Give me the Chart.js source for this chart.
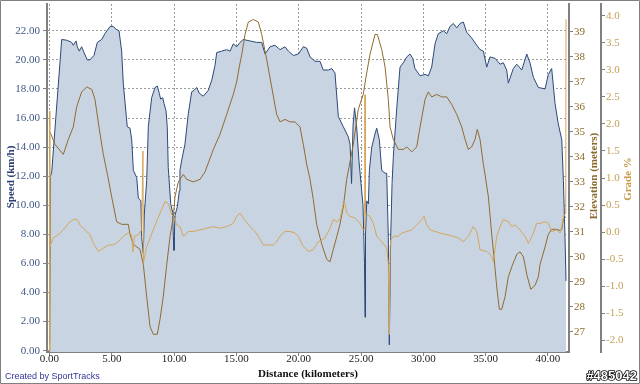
<!DOCTYPE html>
<html><head><meta charset="utf-8">
<script src="https://cdn.jsdelivr.net/npm/chart.js@4.4.0/dist/chart.umd.min.js"></script>
<style>html,body{margin:0;padding:0;background:#fff;overflow:hidden}canvas{display:block}</style>
</head><body>
<canvas id="c" width="640" height="384"></canvas>
<script>
// Speed (km/h) vs distance (km)
const speedDist = [
0.01,0.08,0.18,0.98,1.38,1.78,1.91,2.13,2.23,2.39,
2.58,2.77,3.03,3.25,3.57,3.84,4.19,4.45,4.86,5.12,
5.34,5.58,5.79,5.92,6.24,6.46,6.60,6.73,7.00,7.13,
7.34,7.40,7.53,7.61,7.80,7.93,8.20,8.47,8.65,8.81,
8.92,9.09,9.19,9.35,9.45,9.53,9.73,9.89,9.94,9.99,
10.07,10.26,10.42,10.47,10.61,10.87,11.14,11.41,11.60,11.81,
12.02,12.34,12.74,13.02,13.28,13.42,13.82,14.22,14.49,14.75,
15.02,15.29,15.55,16.09,16.63,17.03,17.30,17.70,18.10,18.50,
18.90,19.17,19.57,19.97,20.37,20.64,20.91,21.31,21.71,21.97,
22.38,22.65,22.91,23.18,23.58,23.98,24.12,24.24,24.36,24.48,
24.64,24.84,25.00,25.16,25.28,25.32,25.36,25.46,25.59,25.67,
25.86,26.12,26.26,26.47,26.66,26.93,27.06,27.19,27.27,27.38,
27.49,27.59,27.87,28.13,28.40,28.67,28.93,29.15,29.33,29.74,
30.14,30.40,30.67,30.94,31.20,31.61,31.88,32.14,32.41,32.68,
32.95,33.21,33.48,33.88,34.29,34.55,34.82,35.09,35.35,35.76,
36.16,36.42,36.69,36.82,37.22,37.50,37.90,38.30,38.56,38.83,
39.23,39.77,40.03,40.30,40.57,40.83,41.11,41.24,41.37,41.45];
const speedKmh = [
0.5,12.0,12.3,21.4,21.35,21.2,21.0,21.3,20.9,20.6,
20.9,20.5,20.0,20.0,20.3,21.2,21.4,21.8,22.3,22.3,
22.1,22.0,20.6,18.4,15.4,15.3,14.5,12.4,11.9,10.5,
10.3,7.8,6.7,9.4,11.7,15.4,17.4,18.1,18.2,17.7,
17.3,17.4,17.0,16.5,15.4,12.6,10.1,9.5,7.8,6.9,
9.3,9.9,11.0,12.4,13.1,14.2,16.3,17.8,17.9,18.1,
17.7,17.5,17.9,18.6,19.6,20.5,20.6,20.7,20.6,21.1,
20.9,21.2,21.4,21.3,21.2,21.2,20.4,20.9,21.0,20.7,
20.9,20.6,20.3,20.4,20.9,20.8,20.2,19.9,19.9,19.3,
19.3,19.4,19.1,16.1,15.4,14.7,14.2,11.5,15.5,16.7,
15.5,13.0,11.5,10.0,6.0,2.3,8.0,10.3,10.1,12.4,
14.0,14.9,15.3,14.5,12.4,12.2,12.2,7.8,0.4,7.8,
11.5,13.3,16.7,19.5,19.8,20.2,20.4,20.1,19.4,18.9,
19.0,18.9,19.5,21.1,21.8,22.0,21.8,22.3,22.5,22.2,
22.5,22.6,21.9,21.5,21.0,20.7,20.6,19.5,20.2,20.1,
19.7,19.8,19.3,18.4,19.4,19.7,19.3,20.4,19.8,18.8,
18.1,18.0,19.0,19.4,17.0,15.6,14.5,11.7,7.8,4.8];

// Elevation (meters) vs distance (km)
const elevDist = [
0.04,0.44,1.11,1.51,1.91,2.18,2.58,2.99,3.39,3.65,
4.00,4.32,4.65,4.99,5.39,5.79,6.32,6.46,6.73,7.26,
7.53,7.80,8.07,8.33,8.65,8.87,9.13,9.41,9.67,9.94,
10.07,10.34,10.74,11.01,11.54,12.08,12.48,13.15,13.68,14.22,
14.75,15.02,15.23,15.43,15.69,15.96,16.36,16.76,17.03,17.43,
17.83,18.23,18.50,18.90,19.30,19.70,20.10,20.37,20.64,20.91,
21.17,21.44,21.85,22.25,22.51,22.78,23.05,23.31,23.58,23.85,
24.38,24.78,25.18,25.40,25.72,26.12,26.31,26.66,26.93,27.19,
27.33,27.59,27.99,28.40,28.67,29.07,29.47,29.74,30.14,30.40,
30.67,31.08,31.48,31.88,32.28,32.68,33.08,33.35,33.61,33.88,
34.15,34.33,34.55,34.82,34.95,35.22,35.49,35.67,35.89,36.10,
36.29,36.56,36.82,37.10,37.50,37.76,38.03,38.30,38.62,38.96,
39.23,39.37,39.77,40.03,40.30,40.71,40.97,41.11,41.24,41.45];
const elevM = [
35.0,34.5,34.1,34.7,35.2,36.0,36.6,36.8,36.7,36.3,
35.1,34.1,33.3,32.4,31.4,31.3,31.3,30.9,30.5,30.3,
29.7,28.4,27.2,26.9,26.9,27.5,28.4,29.7,30.8,31.6,
32.4,33.0,33.3,33.1,33.0,33.1,33.4,34.3,34.9,35.7,
36.5,37.0,37.6,38.1,38.9,39.4,39.5,39.4,38.9,37.9,
36.8,35.7,35.4,35.5,35.4,35.4,35.2,34.5,33.7,33.1,
32.3,31.3,30.5,29.9,29.8,30.3,30.8,31.3,32.0,33.1,
34.5,35.9,36.5,37.2,38.1,38.9,38.9,38.3,37.6,36.3,
35.2,34.7,34.3,34.3,34.4,34.2,34.4,35.2,36.3,36.6,
36.4,36.5,36.4,36.4,36.1,35.7,35.2,34.7,34.3,34.4,
34.7,35.1,34.7,33.7,33.3,32.4,30.9,30.0,28.8,27.9,
27.9,28.4,29.2,29.6,30.1,30.2,30.0,29.3,28.7,28.85,
29.2,29.7,30.4,30.9,31.1,31.1,31.05,31.1,31.5,31.6];

// Grade (%) vs distance (km)
const gradeDist = [
0.00,0.02,0.04,0.30,0.71,1.11,1.51,1.91,2.23,2.45,
2.85,3.25,3.52,3.92,4.32,4.72,5.12,5.52,5.92,6.32,
6.60,6.70,6.81,7.13,7.40,7.50,7.54,7.80,8.33,8.87,
9.27,9.53,9.81,9.94,10.21,10.47,10.74,11.14,11.54,12.08,
12.62,13.15,13.68,14.22,14.75,15.02,15.29,15.55,16.09,16.49,
16.76,17.16,17.56,17.96,18.23,18.50,18.90,19.30,19.70,19.97,
20.37,20.77,21.17,21.57,21.85,22.11,22.51,22.78,23.05,23.31,
23.58,23.71,23.85,24.12,24.52,24.92,25.18,25.30,25.32,25.35,
25.46,25.72,25.99,26.26,26.66,27.06,27.19,27.27,27.34,27.38,
27.59,27.99,28.27,28.67,29.07,29.47,29.87,30.06,30.27,30.54,
30.94,31.34,31.88,32.41,32.81,33.21,33.61,34.01,34.29,34.55,
35.09,35.49,35.62,35.89,36.16,36.42,36.82,37.10,37.36,37.76,
38.16,38.43,38.83,39.10,39.37,39.77,40.03,40.30,40.71,40.97,
41.11,41.24,41.43,41.45];
const gradePct = [
2.24,-2.2,-0.27,-0.11,-0.05,0.04,0.16,0.23,0.23,0.13,
0.04,-0.05,-0.21,-0.36,-0.30,-0.24,-0.24,-0.18,-0.08,-0.02,
-0.05,-0.37,-0.08,-0.05,0.04,1.50,-0.57,-0.27,0.04,0.35,
0.56,0.53,0.32,0.29,0.13,0.10,-0.08,0.01,0.01,0.04,
0.07,0.10,0.07,0.10,0.16,0.29,0.35,0.26,0.10,0.01,
-0.08,-0.24,-0.24,-0.24,-0.18,-0.08,0.01,0.01,-0.02,-0.08,
-0.27,-0.36,-0.33,-0.18,-0.15,-0.11,0.07,0.23,0.19,0.23,
0.53,0.53,0.35,0.29,0.26,0.16,0.04,0.04,2.54,0.32,
0.32,0.29,0.16,-0.08,-0.18,-0.30,-0.58,-1.90,-0.24,-0.15,
-0.08,-0.08,-0.02,0.01,0.04,0.13,0.23,0.29,0.13,0.04,
0.01,-0.02,-0.05,-0.08,-0.11,-0.18,-0.08,0.10,0.01,-0.33,
-0.36,-0.45,-0.55,-0.08,0.10,0.23,0.19,0.10,0.13,0.04,
-0.08,-0.21,-0.02,0.16,0.16,0.19,0.16,0.01,0.04,-0.02,
0.10,0.29,0.35,3.94];

const xTitle = 'Distance (kilometers)';
const speedTitle = 'Speed (km/h)';
const elevTitle = 'Elevation (meters)';
const gradeTitle = 'Grade %';

const pts = (xs, ys) => xs.map((x, i) => ({x: x, y: ys[i]}));
const SERIF = "'Liberation Serif', 'Times New Roman', serif";
Chart.defaults.font.family = SERIF;
Chart.defaults.font.size = 11;

function fixW(w) { return function (s) { s.width = w; s.paddingTop = 0; s.paddingBottom = 0; s.paddingLeft = 0; s.paddingRight = 0; }; }
function fixH(h) { return function (s) { s.height = h; s.paddingTop = 0; s.paddingBottom = 0; s.paddingLeft = 0; s.paddingRight = 0; }; }

const deco = {
  id: 'deco',
  afterDraw(chart) {
    const ctx = chart.ctx;
    ctx.save();
    function vtext(t, x, y, color) {
      ctx.save(); ctx.translate(x, y); ctx.rotate(-Math.PI / 2);
      ctx.fillStyle = color; ctx.textAlign = 'center'; ctx.textBaseline = 'middle';
      ctx.fillText(t, 0, 0); ctx.restore();
    }
    ctx.font = "bold 11px " + SERIF;
    vtext(speedTitle, 11, 177, '#2B3E74');
    vtext(elevTitle, 594, 176, '#8A6A2A');
    vtext(gradeTitle, 628, 179, '#C49A4A');
    ctx.fillStyle = '#111'; ctx.textAlign = 'center'; ctx.textBaseline = 'middle';
    ctx.fillText(xTitle, 308, 374);
    ctx.font = "9px 'Liberation Sans', Arial, sans-serif";
    ctx.fillStyle = '#333399'; ctx.textAlign = 'left';
    ctx.fillText('Created by SportTracks', 5, 377);
    ctx.font = "bold 13px 'Liberation Sans', Arial, sans-serif";
    ctx.textAlign = 'right'; ctx.lineWidth = 1.6; ctx.strokeStyle = '#000'; ctx.lineJoin = 'round';
    ctx.strokeText('#485042', 637, 376);
    ctx.fillStyle = '#fff'; ctx.fillText('#485042', 637, 376);
    ctx.strokeStyle = '#808080'; ctx.lineWidth = 1; ctx.strokeRect(0.5, 0.5, 639, 383);
    ctx.restore();
  }
};

new Chart(document.getElementById('c'), {
  type: 'line',
  data: {
    datasets: [
      {label: 'Speed', data: pts(speedDist, speedKmh), yAxisID: 'ySpeed', borderColor: '#2B4878', backgroundColor: '#C9D4E3', fill: 'start', borderWidth: 1, pointRadius: 0, tension: 0, order: 3},
      {label: 'Elevation', data: pts(elevDist, elevM), yAxisID: 'yElev', borderColor: '#8F6B30', borderWidth: 1, pointRadius: 0, tension: 0, fill: false, order: 2},
      {label: 'Grade', data: pts(gradeDist, gradePct), yAxisID: 'yGrade', borderColor: '#D4A65A', borderWidth: 1, pointRadius: 0, tension: 0, fill: false, order: 1}
    ]
  },
  options: {
    responsive: false, animation: false, devicePixelRatio: 1,
    layout: {padding: {top: 4, left: 0, right: 0, bottom: 0}, autoPadding: false},
    plugins: {legend: {display: false}, tooltip: {enabled: false}},
    scales: {
      x: {type: 'linear', min: -0.2, max: 41.69, afterFit: fixH(32),
        ticks: {stepSize: 5, includeBounds: false, maxTicksLimit: 100, autoSkip: false, maxRotation: 0, callback: v => v.toFixed(2), color: '#222', padding: -3},
        grid: {color: '#9a9a9a', tickColor: '#808080', tickLength: 4},
        border: {color: '#808080', width: 2, dash: [2, 2]}},
      ySpeed: {position: 'left', min: -0.09, max: 23.84, afterFit: fixW(47),
        ticks: {stepSize: 2, includeBounds: false, maxTicksLimit: 100, callback: v => v.toFixed(2), color: '#3E5686', padding: 3},
        grid: {color: '#9a9a9a', tickColor: '#808080', tickLength: 4},
        border: {color: '#808080', width: 2, dash: [2, 2]}},
      yElev: {position: 'right', min: 26.19, max: 40.12, afterFit: fixW(32),
        ticks: {stepSize: 1, includeBounds: false, maxTicksLimit: 100, callback: v => (v > 39.5 ? null : String(v)), color: '#8B6B2B', padding: 1},
        grid: {drawOnChartArea: false, tickColor: '#808080', tickLength: 4},
        border: {color: '#808080', width: 2}},
      yGrade: {position: 'right', min: -2.222, max: 4.222, afterFit: fixW(39),
        ticks: {stepSize: 0.5, includeBounds: false, maxTicksLimit: 100, callback: v => v.toFixed(1), color: '#C4A052', padding: 1},
        grid: {drawOnChartArea: false, tickColor: '#808080', tickLength: 4},
        border: {color: '#808080', width: 2}}
    }
  },
  plugins: [deco]
});
</script>
</body></html>
